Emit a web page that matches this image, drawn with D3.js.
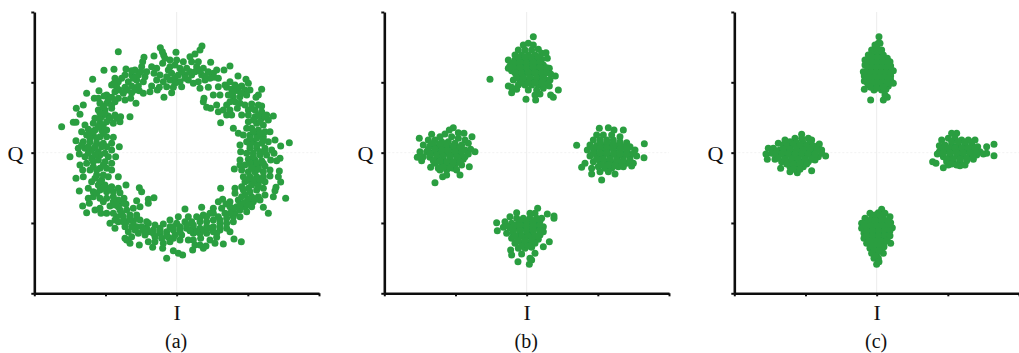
<!DOCTYPE html>
<html>
<head>
<meta charset="utf-8">
<script src="https://cdn.jsdelivr.net/npm/d3@7"></script>
<style>
body { margin: 0; background: #fff; }
text { font-family: "Liberation Serif", serif; fill: #111; }
</style>
</head>
<body>
<script>
// Points. Units are arbitrary, each panel has its own axis range
var ringPoints = [
[481,143],[487,155],[491,165],[528,157],[606,138],[600,150],[585,162],[570,170],[432,172],[428,185],[462,168],[510,180],[495,175],[488,190],[530,180],[550,185],[575,185],[595,185],[632,187],[690,198],[672,210],[650,210],[425,200],[405,210],[378,207],[455,200],[470,205],[510,200],[525,195],[540,205],[560,205],[590,200],[610,205],[625,215],[640,220],[375,225],[395,225],[415,225],[435,230],[462,220],[480,225],[515,220],[535,225],[555,225],[575,225],[605,225],[630,235],[655,235],[345,235],[355,245],[385,245],[410,240],[430,245],[470,240],[490,245],[510,240],[540,245],[565,240],[595,245],[615,240],[335,255],[350,260],[375,262],[395,258],[415,258],[455,258],[478,262],[500,260],[520,262],[545,260],[600,265],[625,262],[655,260],[345,275],[370,280],[395,278],[430,280],[450,275],[472,270],[492,292],[515,278],[612,295],[640,285],[660,285],[620,322],[632,325],[650,315],[655,335],[610,305],[392,295],[408,310],[375,300],[355,295],[335,292],[320,285],[297,272],[312,288],[283,295],[295,295],
[714,228],[738,238],[690,245],[705,255],[725,258],[745,250],[680,262],[695,268],[715,272],[735,270],[750,270],[785,268],[775,285],[768,292],[685,285],[700,290],[720,290],[705,305],[690,305],[680,315],[720,310],[735,315],[755,312],[775,315],[785,318],[745,330],[765,330],[785,335],[800,345],[820,348],[670,330],[690,330],[712,325],[680,345],[695,345],[662,368],[725,345],[745,345],[765,350],[785,355],[805,360],[700,385],[745,365],[770,370],[790,375],[755,385],[775,390],[795,395],[740,385],[715,400],[730,405],[750,405],[770,405],[790,410],[810,395],[825,420],[868,428],[842,438],[805,425],[785,430],[760,425],[740,425],[720,435],[750,445],[770,445],[795,445],[815,450],[840,475],
[722,455],[740,460],[760,460],[780,465],[800,465],[822,460],[745,478],[765,480],[785,482],[812,480],[830,482],[720,480],[735,495],[755,498],[775,500],[795,498],[838,513],[703,507],[725,510],[745,515],[765,515],[790,515],[810,510],[730,530],[750,530],[770,530],[790,530],[810,528],[835,530],[842,546],[828,562],[825,572],[820,590],[857,595],[735,545],[755,548],[775,548],[795,545],[662,565],[705,565],[725,560],[745,565],[770,570],[790,565],[705,580],[735,585],[755,590],[775,590],[795,585],[668,598],[655,605],[690,605],[715,600],[740,605],[760,605],[780,600],[735,620],[755,620],[720,630],[790,622],[805,640],[740,635],[705,640],[690,620],[665,625],
[605,622],[640,625],[555,627],[678,612],[630,640],[610,645],[590,650],[565,650],[535,650],[510,660],[490,672],[655,650],[675,640],[700,650],[720,650],[640,660],[620,665],[600,665],[575,665],[555,665],[530,670],[510,680],[480,685],[465,675],[445,670],[660,670],[680,670],[700,665],[640,680],[620,680],[600,685],[580,685],[560,685],[540,688],[520,690],[500,695],[480,700],[460,690],[440,685],[680,685],[660,690],[640,695],[620,700],[600,700],[580,700],[545,705],[525,705],[505,712],[485,715],[465,710],[690,695],[650,712],[630,720],[602,715],[580,720],[565,720],[540,720],[510,725],[490,730],[465,725],[445,725],[618,738],[600,735],[585,735],[670,732],[645,730],[702,717],[724,725],[578,750],[610,745],[520,752],[488,745],[458,742],[418,735],[390,730],[380,720],[500,775],[535,760],[548,765],
[375,715],[395,710],[415,700],[435,705],[385,695],[405,690],[425,680],[375,680],[345,685],[330,670],[355,665],[380,665],[400,665],[420,660],[440,665],[350,650],[370,650],[390,645],[410,645],[340,640],[360,630],[380,630],[400,625],[420,620],[445,610],[462,593],[445,598],[410,602],[378,612],[365,610],[355,600],[340,590],[320,595],[300,595],[280,590],[265,595],[248,618],[260,638],[285,630],[300,625],[303,640],[330,618],[320,640],[268,610],[238,573],[265,565],[280,575],[300,570],[320,575],[340,575],[360,578],[378,555],[418,563],[425,575],[355,565],[335,560],[315,555],[295,555],[275,545],[305,540],[325,530],[290,525],[270,510],[250,530],[228,535],[248,510],[355,530],[335,510],[320,505],[300,505],[280,500],[260,490],[240,495],[315,485],[335,490],[295,480],[275,475],[347,470],[255,470],[238,462],[210,470],[235,445],[255,445],[275,450],[295,455],[315,460],[335,450],[358,440],[228,422],[250,425],[270,425],[290,430],[310,430],[335,430],[340,412],[320,410],[300,410],[280,405],[260,405],[245,395],[265,388],[285,390],[305,390],[320,390],[255,375],[280,370],[300,370],[320,365],[340,370],[360,365],[185,380],[220,367],[228,367],[240,343],[229,325],[250,315],[285,355],[305,350],[325,348],[345,345],[362,350],[390,350],[295,330],[315,330],[335,325],[300,310],[320,310],[345,305],[355,155],[278,238],[312,211],[342,208],[260,280],
[365,235],[400,235],[422,215],[440,215],[382,270],[405,270],[358,270],[342,250],[395,212],[418,272],[505,210],[525,235],[545,215],[555,235],[570,215],[585,215],[600,212],[615,228],[642,232],[525,250],[580,250],[500,230],[675,255],[710,262],[725,280],[740,285],[700,275],[755,325],[775,345],[760,360],[780,365],[795,350],[760,395],[780,400],[750,415],[770,415],[790,420],[750,435],[770,435],[780,455],[760,470],[795,455],[770,490],[750,490],[790,490],[755,505],[775,508],[720,495],[740,540],[760,540],[780,540],[755,555],[775,558],[730,570],[750,575],[725,590],[745,597],[765,598],[710,620],[730,610],[700,625],[720,615],[745,615],[690,640],[680,655],[660,680],[650,700],[630,685],[610,690],[590,695],[570,692],[660,660],[620,650],[640,640],[600,655],[580,675],[560,675],[540,680],[520,680],[500,705],[480,692],[520,715],[540,695],[460,700],[445,695],[430,690],[410,680],[395,680],[390,655],[370,665],[410,655],[365,640],[345,660],[355,620],[372,595],[340,605],[345,615],[310,605],[290,580],[310,565],[330,565],[300,545],[285,535],[310,525],[290,510],[310,495],[325,470],[280,485],[300,465],[285,465],[265,460],[245,435],[265,440],[285,440],[305,440],[320,440],[290,415],[310,400],[270,415],[275,395],[295,380],[310,375],[300,355],[315,340],[330,355],[350,355],[310,320],[300,340],[325,300],[335,315]
];

var bTop = [[580,110],[565,130],[550,135],[580,135],[535,150],[555,150],[575,150],[595,148],[525,165],[545,165],[565,165],[585,165],[605,160],[618,158],[505,180],[525,180],[545,180],[565,180],[585,180],[605,178],[622,175],[510,197],[530,195],[550,195],[570,195],[590,195],[610,195],[628,205],[515,212],[535,210],[555,210],[575,210],[595,210],[615,212],[505,205],[530,225],[550,225],[570,225],[590,225],[610,228],[632,222],[646,228],[450,238],[520,240],[540,240],[560,240],[580,240],[600,240],[620,240],[630,240],[505,258],[515,262],[535,255],[555,255],[575,255],[595,255],[615,255],[628,258],[655,270],[515,278],[530,268],[565,270],[590,270],[610,265],[585,285],[600,282],[558,298],[587,300],[632,285],[640,292],
[535,172],[555,172],[575,172],[595,172],[520,188],[540,188],[560,188],[580,188],[600,188],[520,203],[540,203],[560,203],[580,203],[600,203],[620,203],[525,218],[545,218],[565,218],[585,218],[605,218],[620,218],[530,233],[550,233],[570,233],[590,233],[610,233],[545,248],[565,248],[585,248],[605,248]];
var bLeft = [[340,383],[328,390],[275,403],[238,415],[355,398],[372,400],[396,410],[315,402],[300,410],[335,410],[355,415],[375,420],[265,420],[285,420],[305,425],[325,425],[345,430],[365,435],[385,430],[250,435],[270,438],[290,440],[310,442],[330,445],[350,448],[375,450],[392,448],[240,455],[260,455],[280,458],[300,458],[320,460],[340,462],[360,465],[385,462],[405,455],[232,472],[250,470],[270,472],[290,475],[310,478],[330,478],[350,480],[370,478],[245,482],[272,502],[285,490],[305,492],[325,495],[345,495],[365,495],[388,500],[300,510],[320,510],[340,505],[360,525],[308,530],[320,525],[285,548],[295,505],
[280,430],[300,432],[320,433],[340,438],[360,442],[265,448],[285,448],[305,450],[325,452],[345,455],[365,455],[270,463],[290,466],[310,468],[330,468],[350,470],[375,470],[280,482],[300,484],[320,486],[340,487],[360,487],[310,502],[330,503],[350,510]];
var bRight = [[778,385],[805,383],[822,390],[850,390],[710,436],[913,431],[912,473],[770,405],[790,405],[815,405],[840,410],[760,420],[780,420],[800,420],[820,420],[840,425],[860,428],[750,435],[770,437],[790,437],[810,437],[830,438],[850,440],[870,440],[742,450],[762,452],[782,452],[802,452],[822,455],[842,455],[862,455],[885,450],[750,468],[770,468],[790,468],[810,470],[830,470],[850,470],[870,470],[890,468],[735,490],[725,502],[760,485],[780,485],[800,485],[820,488],[840,488],[860,490],[880,490],[755,505],[775,500],[795,505],[815,505],[835,500],[755,522],[780,515],[805,515],[825,522],[785,540],[875,498],
[780,428],[800,428],[820,430],[840,432],[760,444],[780,444],[800,444],[820,446],[840,447],[860,446],[760,460],[780,460],[800,460],[820,462],[840,462],[860,463],[880,460],[770,477],[790,477],[810,478],[830,479],[850,480],[870,480],[785,495],[805,495],[825,497],[850,500]];
var bBottom = [[593,625],[585,640],[570,640],[530,638],[622,642],[642,648],[642,655],[510,650],[530,655],[550,655],[570,655],[590,655],[605,655],[495,665],[515,670],[535,670],[555,670],[575,670],[595,670],[610,680],[470,668],[472,692],[490,682],[510,685],[530,685],[550,685],[570,685],[590,685],[610,695],[500,700],[520,700],[540,700],[560,700],[580,700],[600,705],[515,715],[535,715],[555,715],[575,715],[595,718],[628,725],[610,740],[525,730],[545,730],[565,730],[585,730],[535,745],[555,745],[575,742],[512,750],[515,765],[545,762],[570,775],[585,760],[534,785],[568,793],[575,780],
[540,662],[560,662],[580,662],[600,662],[520,677],[540,677],[560,677],[580,677],[600,677],[500,677],[520,692],[540,692],[560,692],[580,692],[600,692],[525,708],[545,708],[565,708],[585,708],[535,722],[555,722],[575,722],[595,708],[545,738],[565,738]];

var cTop = [[597,110],[595,130],[585,135],[600,130],[575,150],[590,150],[605,150],[565,165],[580,165],[595,165],[610,165],[622,175],[555,180],[570,180],[585,180],[600,180],[615,180],[630,185],[555,195],[570,195],[585,195],[600,195],[615,195],[632,198],[550,215],[565,210],[580,210],[595,210],[610,210],[625,210],[640,212],[553,228],[570,225],[585,225],[600,225],[615,225],[632,228],[553,243],[570,240],[585,240],[600,240],[615,240],[632,240],[640,250],[553,268],[565,255],[580,255],[595,258],[610,255],[625,258],[582,270],[605,270],[618,268],[572,300],[610,300],[622,292],[615,285],
[577,172],[592,172],[607,172],[563,188],[578,188],[592,188],[607,188],[622,188],[563,203],[578,203],[592,203],[607,203],[622,203],[558,218],[573,218],[588,218],[603,218],[618,218],[632,218],[562,233],[577,233],[592,233],[607,233],[622,233],[562,248],[577,248],[592,248],[607,248],[622,248],[590,142],[572,262],[590,265],[610,262]];
var cLeft = [[365,403],[345,415],[365,415],[385,415],[395,420],[315,420],[330,425],[350,428],[370,428],[390,430],[418,432],[295,430],[310,435],[330,440],[350,442],[370,442],[390,442],[410,445],[265,445],[280,445],[300,450],[320,455],[340,455],[360,455],[380,455],[400,455],[425,450],[258,462],[275,460],[295,465],[315,470],[335,470],[355,470],[375,470],[395,470],[415,470],[437,468],[262,478],[285,478],[305,485],[325,485],[345,485],[365,485],[385,485],[405,480],[302,505],[330,500],[350,500],[370,500],[395,512],[330,515],[352,518],
[320,437],[340,433],[360,435],[380,436],[400,437],[290,452],[310,448],[330,448],[350,449],[370,449],[390,449],[410,450],[285,462],[305,462],[325,463],[345,463],[365,463],[385,463],[405,463],[425,460],[295,474],[315,478],[335,478],[355,478],[375,478],[395,478],[320,492],[340,492],[360,492],[380,492],[340,508],[360,508]];
var cRight = [[815,400],[830,400],[785,420],[805,415],[825,415],[845,420],[865,420],[885,420],[778,437],[795,435],[815,435],[835,435],[855,435],[875,435],[893,440],[920,440],[942,433],[778,455],[800,452],[820,452],[840,452],[860,452],[880,452],[900,455],[772,462],[790,470],[810,468],[830,468],[850,468],[870,468],[890,465],[910,462],[942,467],[920,460],[758,485],[768,490],[800,485],[820,485],[840,485],[860,482],[880,478],[790,503],[805,495],[840,497],[855,495],
[815,425],[835,425],[855,427],[875,427],[790,445],[805,444],[825,444],[845,444],[865,444],[885,444],[790,460],[810,460],[830,460],[850,460],[870,460],[890,458],[800,477],[820,477],[840,477],[860,475],[880,470],[815,492],[830,495]];
var cBottom = [[605,628],[595,638],[570,640],[615,640],[555,655],[575,655],[590,655],[610,655],[630,650],[545,670],[562,670],[580,670],[598,670],[615,670],[632,668],[545,685],[562,685],[580,685],[598,685],[615,685],[637,683],[552,700],[570,700],[588,700],[605,700],[622,700],[552,715],[570,715],[588,715],[605,715],[622,715],[560,730],[578,730],[595,730],[612,728],[632,730],[570,745],[585,745],[600,745],[575,760],[590,760],[610,760],[582,775],[595,775],[590,793],
[585,645],[600,645],[565,662],[585,662],[605,662],[622,662],[553,677],[571,677],[589,677],[607,677],[625,677],[560,692],[578,692],[596,692],[614,692],[630,692],[560,707],[578,707],[596,707],[614,707],[630,707],[568,722],[586,722],[604,722],[620,722],[578,737],[595,737],[612,740],[583,752],[597,752],[585,768],[597,785]];

var panelLabels = ['(a)', '(b)', '(c)'];
var iDomains = [[103,957], [133,987], [163,1017]];
var qDomain = [880,36];
var panelPoints = [ringPoints, bTop.concat(bLeft, bRight, bBottom), cTop.concat(cLeft, cRight, cBottom)];

var width = 1019, height = 353;
var plotLeft = [34.3, 384.3, 734.3], plotWidth = 284.7;
var plotTop = 12, plotBottom = 293.3;
var green = '#2a9e40';

var svg = d3.select('body').append('svg')
    .attr('width', width)
    .attr('height', height)
    .style('display', 'block');

var defs = svg.append('defs');
defs.append('filter').attr('id', 'soft')
    .append('feGaussianBlur').attr('stdDeviation', 0.45);

panelLabels.forEach(function(label, p) {
    var xScale = d3.scaleLinear().domain(iDomains[p]).range([plotLeft[p], plotLeft[p] + plotWidth]);
    var yScale = d3.scaleLinear().domain(qDomain).range([plotBottom, plotTop]);
    var midI = d3.mean(iDomains[p]), midQ = d3.mean(qDomain);
    var g = svg.append('g').attr('filter', 'url(#soft)');

    // Faint centre lines
    g.append('line')
        .attr('x1', xScale(midI)).attr('x2', xScale(midI))
        .attr('y1', plotTop).attr('y2', plotBottom)
        .attr('stroke', '#e8e8e8').attr('stroke-width', 0.8);
    g.append('line')
        .attr('x1', plotLeft[p]).attr('x2', plotLeft[p] + plotWidth)
        .attr('y1', yScale(midQ)).attr('y2', yScale(midQ))
        .attr('stroke', '#efefef').attr('stroke-width', 0.8)
        .attr('stroke-dasharray', '2 2');

    g.selectAll('circle')
        .data(panelPoints[p])
        .enter().append('circle')
        .attr('cx', function(d) { return xScale(d[0]); })
        .attr('cy', function(d) { return yScale(d[1]); })
        .attr('r', 3.5)
        .attr('fill', green);

    // Axes, ticks only, no numbers
    var xStep = (iDomains[p][1] - iDomains[p][0]) / 4;
    var yStep = (qDomain[1] - qDomain[0]) / 4;
    var xAxis = d3.axisBottom(xScale)
        .tickValues(d3.range(5).map(function(i) { return iDomains[p][0] + i * xStep; }))
        .tickSize(3).tickSizeOuter(0).tickFormat('');
    var yAxis = d3.axisLeft(yScale)
        .tickValues(d3.range(5).map(function(i) { return qDomain[0] + i * yStep; }))
        .tickSize(3).tickSizeOuter(0).tickFormat('');

    [g.append('g').attr('transform', 'translate(0,' + plotBottom + ')').call(xAxis),
     g.append('g').attr('transform', 'translate(' + plotLeft[p] + ',0)').call(yAxis)].forEach(function(ax) {
        ax.select('.domain').attr('stroke', '#111').attr('stroke-width', 2.6);
        ax.selectAll('.tick line').attr('stroke', '#111').attr('stroke-width', 2);
    });

    svg.append('text')
        .text('Q')
        .attr('x', plotLeft[p] - 11)
        .attr('y', yScale(midQ) + 8)
        .attr('text-anchor', 'end')
        .style('font-size', '22px');
    svg.append('text')
        .text('I')
        .attr('x', xScale(midI) + 0.5)
        .attr('y', 320)
        .attr('text-anchor', 'middle')
        .style('font-size', '22px');
    svg.append('text')
        .text(label)
        .attr('x', xScale(midI) - 0.5)
        .attr('y', 348)
        .attr('text-anchor', 'middle')
        .style('font-size', '20px');
});
</script>
</body>
</html>
